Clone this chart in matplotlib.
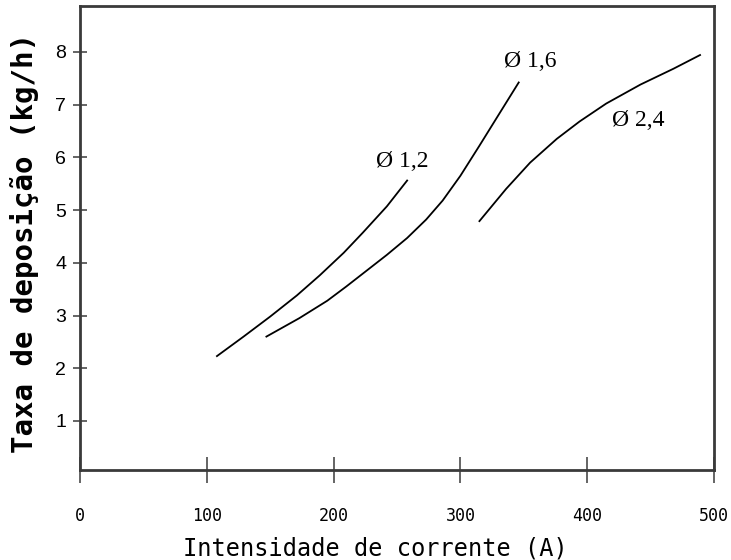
import matplotlib
matplotlib.use("Agg")
import matplotlib.pyplot as plt

# curves: current (A) vs deposition rate (kg/h)
wire_labels = ["Ø 1,2", "Ø 1,6", "Ø 2,4"]

amps_12 = [108, 129, 150, 171, 189, 208, 223, 242, 258]
rate_12 = [2.23, 2.60, 2.98, 3.38, 3.76, 4.19, 4.57, 5.07, 5.56]

amps_16 = [147, 173, 195, 210, 226, 242, 258, 273, 286, 300, 315, 331, 346]
rate_16 = [2.60, 2.95, 3.28, 3.55, 3.85, 4.15, 4.47, 4.82, 5.18, 5.65, 6.22, 6.84, 7.42]

amps_24 = [315, 336, 355, 376, 394, 415, 442, 468, 489]
rate_24 = [4.79, 5.40, 5.90, 6.35, 6.68, 7.02, 7.38, 7.68, 7.94]

# where the wire labels sit
label_x = [254, 355, 440]
label_y = [5.93, 7.81, 6.69]

x_ticks = [0, 100, 200, 300, 400, 500]
y_ticks = [1, 2, 3, 4, 5, 6, 7, 8]


def plot_all():
    fig = plt.figure(figsize=(7.31, 5.60), dpi=100)
    ax = fig.add_axes([80 / 731, 90 / 560, 634 / 731, 464 / 560])

    for xs, ys in [(amps_12, rate_12), (amps_16, rate_16), (amps_24, rate_24)]:
        ax.plot(xs, ys, color="black", lw=1.3, solid_joinstyle="round")

    for txt, lx, ly in zip(wire_labels, label_x, label_y):
        ax.text(lx, ly, txt, ha="center", va="center", fontsize=17,
                family="Liberation Serif")

    ax.set_xlim(0, 500)
    ax.set_ylim(0.07, 8.87)

    for sp in ax.spines.values():
        sp.set_color("#3a3a3a")
        sp.set_linewidth(2)

    ax.set_xticks(x_ticks)
    ax.set_yticks(y_ticks)
    ax.tick_params(axis="x", direction="inout", length=18.7, width=1.1,
                   pad=17, color="#3a3a3a", labelsize=12)
    ax.tick_params(axis="y", direction="inout", length=10, width=1.1,
                   pad=5, color="#3a3a3a", labelsize=14)
    for lab in ax.get_xticklabels():
        lab.set_family("DejaVu Sans Mono")
    for lab in ax.get_yticklabels():
        lab.set_family("Liberation Sans")

    ax.set_xlabel("Intensidade de corrente (A)", fontsize=17,
                  family="DejaVu Sans Mono", va="center")
    ax.xaxis.set_label_coords(0.466, -0.17)
    ax.set_ylabel("Taxa de deposição (kg/h)", fontsize=21,
                  family="DejaVu Sans Mono", fontweight="bold", va="center")
    ax.yaxis.set_label_coords(-0.088, 0.49)

    fig.savefig("out.png", dpi=100)


def main():
    plot_all()


if __name__ == "__main__":
    main()
